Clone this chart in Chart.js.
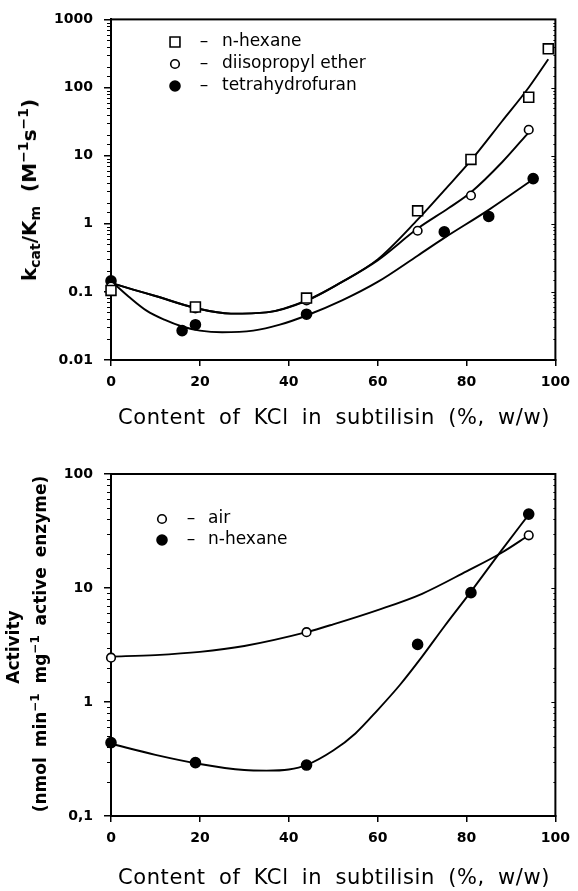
<!DOCTYPE html>
<html><head><meta charset="utf-8">
<script src="https://cdn.jsdelivr.net/npm/chart.js@4.4.1/dist/chart.umd.min.js"></script>
<style>
html,body{margin:0;padding:0;background:#fff;}
body{width:578px;height:891px;position:relative;overflow:hidden;font-family:"DejaVu Sans",sans-serif;color:#000;}
.cw{position:absolute;left:0;width:578px;}
.lab{position:absolute;white-space:nowrap;transform:translate(-50%,-50%);line-height:1;}
.rot{transform:translate(-50%,-50%) rotate(-90deg);}
.lab sub{font-size:70%;vertical-align:-0.3em;line-height:0;}
.lab sup{font-size:70%;vertical-align:0.55em;line-height:0;}
.xt{font-size:21px;word-spacing:6px;letter-spacing:0.6px;}
</style></head><body>
<div class="cw" style="top:0;height:445px"><canvas id="c1" width="578" height="445"></canvas></div>
<div class="cw" style="top:445px;height:446px"><canvas id="c2" width="578" height="446"></canvas></div>
<div class="lab rot" style="left:29px;top:190px;font-weight:bold;font-size:20px">k<sub>cat</sub>/K<sub>m</sub>&nbsp;&nbsp;(M<sup>−1</sup>s<sup>−1</sup>)</div>
<div class="lab xt" style="left:334px;top:417px">Content of KCl in subtilisin (%, w/w)</div>
<div class="lab rot" style="left:13px;top:647px;font-weight:bold;font-size:17px">Activity</div>
<div class="lab rot" style="left:40px;top:644px;font-weight:bold;font-size:17px;word-spacing:4px">(nmol min<sup>−1</sup> mg<sup>−1</sup> active enzyme)</div>
<div class="lab xt" style="left:334px;top:877px">Content of KCl in subtilisin (%, w/w)</div>
<script>
// ---------- data: top panel (kcat/Km) ----------
const xTickLabels = ['0', '20', '40', '60', '80', '100'];
const yTickLabelsTop = ['0.01', '0.1', '1', '10', '100', '1000'];
const yTickLabelsBottom = ['0,1', '1', '10', '100'];

const hexaneX = [0, 19, 44, 69, 81, 94, 98.4];
const hexaneY = [0.105, 0.06, 0.081, 1.55, 8.8, 72, 370];
const etherX = [0, 19, 44, 69, 81, 94];
const etherY = [0.12, 0.057, 0.075, 0.79, 2.6, 24];
const thfX = [0, 16, 19, 44, 75, 85, 95];
const thfY = [0.145, 0.027, 0.033, 0.047, 0.76, 1.28, 4.6];

const hexaneFitX = [0, 5, 10, 19, 27, 35, 44, 52, 60, 69, 75, 81, 88, 94, 98.4];
const hexaneFitY = [0.135, 0.108, 0.087, 0.058, 0.048, 0.05, 0.075, 0.14, 0.3, 1.15, 3.1, 8.5, 32, 100, 260];
const etherFitX = [0, 5, 10, 19, 27, 35, 44, 52, 60, 69, 76, 81, 88, 94];
const etherFitY = [0.135, 0.108, 0.087, 0.058, 0.048, 0.05, 0.074, 0.14, 0.29, 0.85, 1.7, 2.9, 8.0, 22];
const thfFitX = [0, 4, 8, 12, 16, 20, 25, 32, 38, 44, 52, 60, 69, 75, 85, 95];
const thfFitY = [0.145, 0.085, 0.053, 0.039, 0.031, 0.027, 0.0255, 0.027, 0.033, 0.045, 0.075, 0.14, 0.34, 0.62, 1.6, 4.5];

// ---------- data: bottom panel (activity) ----------
const airX = [0, 44, 94];
const airY = [2.45, 4.1, 29];
const hexActX = [0, 19, 44, 69, 81, 94];
const hexActY = [0.44, 0.294, 0.28, 3.2, 9.1, 44.5];
const airFitX = [0, 10, 20, 30, 44, 50, 60, 70, 80, 88, 94];
const airFitY = [2.5, 2.58, 2.75, 3.1, 4.1, 4.8, 6.4, 8.9, 14, 20.5, 29];
const hexActFitX = [0, 10, 20, 30, 35, 40, 44, 50, 55, 60, 65, 70, 75, 81, 88, 94];
const hexActFitY = [0.43, 0.344, 0.286, 0.253, 0.25, 0.256, 0.28, 0.375, 0.53, 0.85, 1.41, 2.5, 4.6, 9.3, 21.7, 44];

Chart.defaults.font.family = '"DejaVu Sans", sans-serif';
Chart.defaults.color = '#000';

function pts(xs, ys) { return xs.map((x, i) => ({ x: x, y: ys[i] })); }
function isDecade(v) { const l = Math.log10(v); return Math.abs(l - Math.round(l)) < 1e-6; }

function markerSet(label, xs, ys, style, radius, fill) {
  return { label: label, data: pts(xs, ys), showLine: false, order: 0, clip: false,
    pointStyle: style, pointRadius: radius, pointHoverRadius: radius,
    pointBackgroundColor: fill, pointBorderColor: '#000', pointBorderWidth: 1.6,
    legendShow: true };
}
function fitSet(label, xs, ys) {
  return { label: label, data: pts(xs, ys), showLine: true, order: 1, clip: false,
    pointRadius: 0, borderColor: '#000', borderWidth: 1.9, fill: false,
    cubicInterpolationMode: 'monotone', legendShow: false };
}

const framePlugin = {
  id: 'frame',
  beforeDatasetsDraw(chart) {
    const a = chart.chartArea, ctx = chart.ctx, y = chart.scales.y;
    ctx.save();
    ctx.strokeStyle = '#000';
    ctx.lineWidth = 2;
    ctx.strokeRect(a.left, a.top, a.right - a.left, a.bottom - a.top);
    ctx.lineWidth = 1;
    y.ticks.forEach(t => {
      const p = Math.round(y.getPixelForValue(t.value)) + 0.5;
      const major = isDecade(t.value);
      ctx.beginPath();
      if (!major) { ctx.moveTo(a.left - 4, p); ctx.lineTo(a.left, p); }
      ctx.moveTo(a.right, p); ctx.lineTo(a.right - (major ? 4 : 2), p);
      ctx.stroke();
    });
    ctx.restore();
  }
};

const legendPlugin = {
  id: 'innerLegend',
  afterDatasetsDraw(chart, args, opts) {
    const ctx = chart.ctx;
    const items = chart.data.datasets.filter(d => d.legendShow);
    ctx.save();
    items.forEach((d, i) => {
      const y = opts.ys[i];
      ctx.fillStyle = d.pointBackgroundColor;
      ctx.strokeStyle = '#000';
      ctx.lineWidth = 1.6;
      Chart.helpers.drawPoint(ctx, { pointStyle: d.pointStyle, radius: d.pointRadius, borderWidth: 1.6, rotation: 0 }, opts.mx, y);
      ctx.fillStyle = '#000';
      ctx.font = '17px "DejaVu Sans", sans-serif';
      ctx.textBaseline = 'middle';
      ctx.textAlign = 'center';
      ctx.fillText('–', opts.dx, y);
      ctx.textAlign = 'left';
      ctx.fillText(d.label, opts.tx, y);
    });
    ctx.restore();
  }
};

function makeOptions(yMin, yMax, yLabels, pad, xH, legendOpts) {
  return {
    responsive: false, devicePixelRatio: 1, animation: false,
    layout: { padding: pad },
    plugins: { legend: { display: false }, tooltip: { enabled: false }, innerLegend: legendOpts },
    scales: {
      x: {
        type: 'linear', min: 0, max: 100,
        afterFit: s => { s.height = xH; },
        border: { display: true, color: '#000', width: 2 },
        grid: { drawOnChartArea: false, drawTicks: true, tickLength: 6, color: '#000', tickColor: '#000', lineWidth: 1.5 },
        ticks: { stepSize: 20, padding: 8, color: '#000', font: { size: 14, weight: 'bold' },
          callback: (v) => { const i = Math.round(v / 20); return (Math.abs(v - i * 20) < 1e-6) ? xTickLabels[i] : ''; } }
      },
      y: {
        type: 'logarithmic', min: yMin, max: yMax,
        afterFit: s => { s.width = 111; },
        border: { display: true, color: '#000', width: 2 },
        grid: { drawOnChartArea: false, drawTicks: true, tickLength: 7, lineWidth: 1.5,
          color: c => (c.tick && isDecade(c.tick.value)) ? '#000' : 'rgba(0,0,0,0)',
          tickColor: c => (c.tick && isDecade(c.tick.value)) ? '#000' : 'rgba(0,0,0,0)' },
        ticks: { autoSkip: false, padding: 11, color: '#000', font: { size: 14, weight: 'bold' },
          callback: (v) => isDecade(v) ? yLabels[Math.round(Math.log10(v) - Math.log10(yMin))] : '' }
      }
    }
  };
}

new Chart(document.getElementById('c1'), {
  type: 'scatter',
  data: { datasets: [
    markerSet('n-hexane', hexaneX, hexaneY, 'rect', 7, '#fff'),
    markerSet('diisopropyl ether', etherX, etherY, 'circle', 4.3, '#fff'),
    markerSet('tetrahydrofuran', thfX, thfY, 'circle', 5, '#000'),
    fitSet('n-hexane fit', hexaneFitX, hexaneFitY),
    fitSet('diisopropyl ether fit', etherFitX, etherFitY),
    fitSet('tetrahydrofuran fit', thfFitX, thfFitY)
  ] },
  options: makeOptions(0.01, 1000, yTickLabelsTop, { top: 17, right: 17, left: 0, bottom: 0 }, 85,
    { mx: 175, dx: 204, tx: 222, ys: [42, 64, 86] }),
  plugins: [framePlugin, legendPlugin]
});

new Chart(document.getElementById('c2'), {
  type: 'scatter',
  data: { datasets: [
    markerSet('air', airX, airY, 'circle', 4.3, '#fff'),
    markerSet('n-hexane', hexActX, hexActY, 'circle', 5, '#000'),
    fitSet('air fit', airFitX, airFitY),
    fitSet('n-hexane fit', hexActFitX, hexActFitY)
  ] },
  options: makeOptions(0.1, 100, yTickLabelsBottom, { top: 29, right: 17, left: 0, bottom: 0 }, 75,
    { mx: 162, dx: 191, tx: 208, ys: [74, 95] }),
  plugins: [framePlugin, legendPlugin]
});
</script>
</body></html>
